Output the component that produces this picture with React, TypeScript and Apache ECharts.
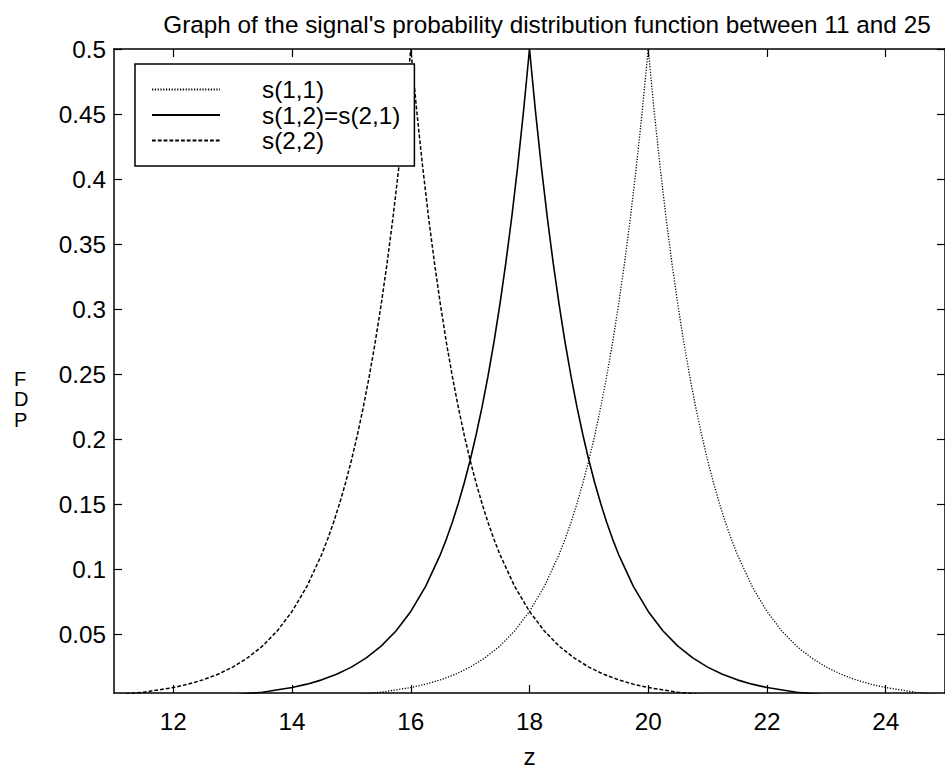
import React, { useEffect, useRef } from "react";
import * as echarts from "echarts";

const chartTitle = "Graph of the signal's probability distribution function between 11 and 25";
const xAxisName = "z";
const yAxisLetters = ["F", "D", "P"];
const seriesNames = ["s(1,1)", "s(1,2)=s(2,1)", "s(2,2)"];
const xTickValues = [12, 14, 16, 18, 20, 22, 24];
const yTickValues = [0.05, 0.1, 0.15, 0.2, 0.25, 0.3, 0.35, 0.4, 0.45, 0.5];

// s(1,1) – dotted
const zS11 = [11, 12, 13, 14, 15, 15.5, 16, 16.25, 16.5, 16.75, 17, 17.25, 17.5, 17.75, 18, 18.25, 18.5, 18.6, 18.7, 18.8, 18.9, 19, 19.1, 19.2, 19.3, 19.4, 19.5, 19.6, 19.7, 19.8, 19.9, 20, 20.1, 20.2, 20.3, 20.4, 20.5, 20.6, 20.7, 20.8, 20.9, 21, 21.1, 21.2, 21.3, 21.4, 21.5, 21.75, 22, 22.25, 22.5, 22.75, 23, 23.25, 23.5, 23.75, 24, 24.5, 25];
const pdfS11 = [0.0001, 0.0002, 0.0005, 0.0012, 0.0034, 0.0056, 0.0092, 0.0118, 0.0151, 0.0194, 0.0249, 0.032, 0.041, 0.0527, 0.0677, 0.0869, 0.1116, 0.1233, 0.1363, 0.1506, 0.1664, 0.1839, 0.2033, 0.2247, 0.2483, 0.2744, 0.3033, 0.3352, 0.3704, 0.4094, 0.4524, 0.5, 0.4524, 0.4094, 0.3704, 0.3352, 0.3033, 0.2744, 0.2483, 0.2247, 0.2033, 0.1839, 0.1664, 0.1506, 0.1363, 0.1233, 0.1116, 0.0869, 0.0677, 0.0527, 0.041, 0.032, 0.0249, 0.0194, 0.0151, 0.0118, 0.0092, 0.0056, 0.0034];

// s(1,2)=s(2,1) – solid
const zS12 = [11, 12, 13, 13.5, 14, 14.25, 14.5, 14.75, 15, 15.25, 15.5, 15.75, 16, 16.25, 16.5, 16.6, 16.7, 16.8, 16.9, 17, 17.1, 17.2, 17.3, 17.4, 17.5, 17.6, 17.7, 17.8, 17.9, 18, 18.1, 18.2, 18.3, 18.4, 18.5, 18.6, 18.7, 18.8, 18.9, 19, 19.1, 19.2, 19.3, 19.4, 19.5, 19.75, 20, 20.25, 20.5, 20.75, 21, 21.25, 21.5, 21.75, 22, 22.5, 23, 24, 25];
const pdfS12 = [0.0005, 0.0012, 0.0034, 0.0056, 0.0092, 0.0118, 0.0151, 0.0194, 0.0249, 0.032, 0.041, 0.0527, 0.0677, 0.0869, 0.1116, 0.1233, 0.1363, 0.1506, 0.1664, 0.1839, 0.2033, 0.2247, 0.2483, 0.2744, 0.3033, 0.3352, 0.3704, 0.4094, 0.4524, 0.5, 0.4524, 0.4094, 0.3704, 0.3352, 0.3033, 0.2744, 0.2483, 0.2247, 0.2033, 0.1839, 0.1664, 0.1506, 0.1363, 0.1233, 0.1116, 0.0869, 0.0677, 0.0527, 0.041, 0.032, 0.0249, 0.0194, 0.0151, 0.0118, 0.0092, 0.0056, 0.0034, 0.0012, 0.0005];

// s(2,2) – dashed
const zS22 = [11, 11.5, 12, 12.25, 12.5, 12.75, 13, 13.25, 13.5, 13.75, 14, 14.25, 14.5, 14.6, 14.7, 14.8, 14.9, 15, 15.1, 15.2, 15.3, 15.4, 15.5, 15.6, 15.7, 15.8, 15.9, 16, 16.1, 16.2, 16.3, 16.4, 16.5, 16.6, 16.7, 16.8, 16.9, 17, 17.1, 17.2, 17.3, 17.4, 17.5, 17.75, 18, 18.25, 18.5, 18.75, 19, 19.25, 19.5, 19.75, 20, 20.5, 21, 22, 23, 24, 25];
const pdfS22 = [0.0034, 0.0056, 0.0092, 0.0118, 0.0151, 0.0194, 0.0249, 0.032, 0.041, 0.0527, 0.0677, 0.0869, 0.1116, 0.1233, 0.1363, 0.1506, 0.1664, 0.1839, 0.2033, 0.2247, 0.2483, 0.2744, 0.3033, 0.3352, 0.3704, 0.4094, 0.4524, 0.5, 0.4524, 0.4094, 0.3704, 0.3352, 0.3033, 0.2744, 0.2483, 0.2247, 0.2033, 0.1839, 0.1664, 0.1506, 0.1363, 0.1233, 0.1116, 0.0869, 0.0677, 0.0527, 0.041, 0.032, 0.0249, 0.0194, 0.0151, 0.0118, 0.0092, 0.0056, 0.0034, 0.0012, 0.0005, 0.0002, 0.0001];

const zip = (zs: number[], ys: number[]) => zs.map((z, i) => [z, ys[i]]);

const FONT = "'Liberation Sans', Arial, Helvetica, sans-serif";
const BLACK = "#000";

export default function App() {
  const ref = useRef<HTMLDivElement>(null);

  useEffect(() => {
    document.body.style.margin = "0";
    const chart = echarts.init(ref.current!, undefined, { renderer: "svg" });

    const axisLine = { show: true, onZero: false, lineStyle: { color: BLACK, width: 1.5 } };
    const tickStyle = { color: BLACK, width: 1.2 };
    const labelStyle = { color: BLACK, fontSize: 24.3, fontFamily: FONT };

    const lineSeries = (name: string, data: number[][], type: any, width: number) => ({
      name,
      type: "line",
      data,
      symbol: "none",
      showSymbol: false,
      clip: true,
      lineStyle: { color: BLACK, width, type },
      itemStyle: { color: BLACK },
      z: 3,
    });

    chart.setOption({
      animation: false,
      backgroundColor: "#fff",
      textStyle: { fontFamily: FONT },
      grid: { left: 114, top: 49, width: 833, height: 654, containLabel: false },
      xAxis: [
        {
          type: "value",
          position: "bottom",
          min: 11,
          max: 25,
          axisLine,
          axisTick: { show: true, inside: true, length: 8, lineStyle: tickStyle, customValues: xTickValues },
          axisLabel: { ...labelStyle, margin: 16, customValues: xTickValues, formatter: (v: number) => String(v) },
          splitLine: { show: false },
          name: xAxisName,
          nameLocation: "middle",
          nameGap: 51,
          nameTextStyle: { ...labelStyle },
        },
        {
          type: "value",
          position: "top",
          min: 11,
          max: 25,
          axisLine,
          axisTick: { show: true, inside: true, length: 8, lineStyle: tickStyle, customValues: xTickValues },
          axisLabel: { show: false },
          splitLine: { show: false },
        },
      ],
      yAxis: [
        {
          type: "value",
          position: "left",
          min: 0.005,
          max: 0.5,
          axisLine,
          axisTick: { show: true, inside: true, length: 8, lineStyle: tickStyle, customValues: yTickValues },
          axisLabel: { ...labelStyle, margin: 8, customValues: yTickValues, formatter: (v: number) => String(v) },
          splitLine: { show: false },
        },
        {
          type: "value",
          position: "right",
          min: 0.005,
          max: 0.5,
          axisLine,
          axisTick: { show: true, inside: true, length: 8, lineStyle: tickStyle, customValues: yTickValues },
          axisLabel: { show: false },
          splitLine: { show: false },
        },
      ],
      legend: {
        orient: "vertical",
        left: 135,
        top: 64,
        padding: [13, 14, 13, 16],
        backgroundColor: "#fff",
        borderColor: BLACK,
        borderWidth: 1.5,
        itemWidth: 68,
        itemHeight: 10,
        itemGap: 0.5,
        selectedMode: false,
        data: seriesNames,
        itemStyle: { color: "transparent", borderColor: "transparent", borderWidth: 0 },
        textStyle: { ...labelStyle, lineHeight: 25, padding: [0, 0, 0, 37] },
        z: 10,
      },
      series: [
        lineSeries(seriesNames[0], zip(zS11, pdfS11), [1.2, 1.6], 1.3),
        lineSeries(seriesNames[1], zip(zS12, pdfS12), "solid", 1.6),
        lineSeries(seriesNames[2], zip(zS22, pdfS22), [3.8, 2], 1.5),
      ],
      graphic: [
        {
          type: "text",
          x: 547,
          y: 24,
          style: { text: chartTitle, fill: BLACK, font: `24.3px ${FONT}`, textAlign: "center", textVerticalAlign: "middle" },
        },
        {
          type: "text",
          x: 14,
          y: 399,
          style: {
            text: yAxisLetters.join("\n"),
            fill: BLACK,
            font: `20px ${FONT}`,
            lineHeight: 20.5,
            textAlign: "left",
            textVerticalAlign: "middle",
          },
        },
      ],
    });

    return () => chart.dispose();
  }, []);

  return <div ref={ref} style={{ position: "fixed", left: 0, top: 0, width: 945, height: 773 }} />;
}
